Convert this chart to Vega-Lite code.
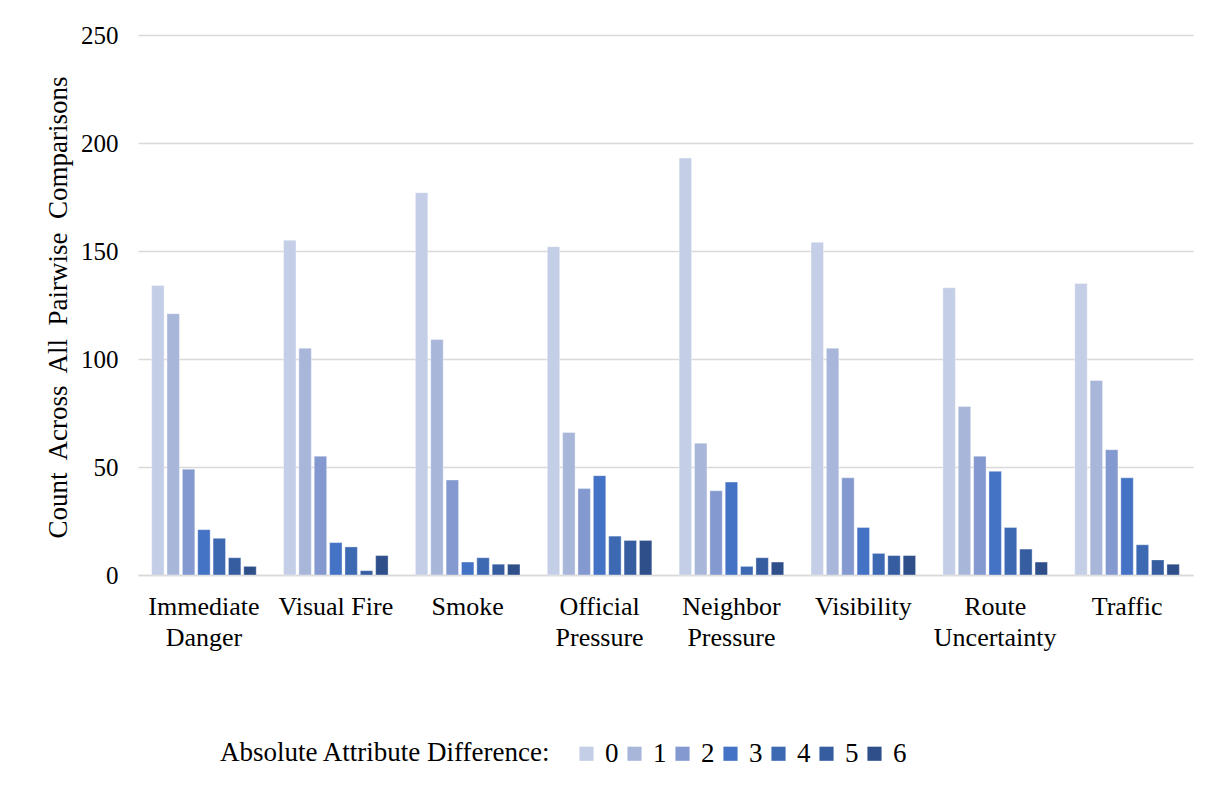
{
  "$schema": "https://vega.github.io/schema/vega-lite/v6.json",
  "width": 1055,
  "height": 540,
  "autosize": {"type": "none"},
  "padding": {"left": 138, "top": 35, "right": 24, "bottom": 210},
  "background": "white",
  "config": {
    "font": "Liberation Serif",
    "view": {"stroke": null}
  },
  "data": {
    "values": [
      {"attribute": "Immediate Danger", "diff": 0, "count": 134},
      {"attribute": "Immediate Danger", "diff": 1, "count": 121},
      {"attribute": "Immediate Danger", "diff": 2, "count": 49},
      {"attribute": "Immediate Danger", "diff": 3, "count": 21},
      {"attribute": "Immediate Danger", "diff": 4, "count": 17},
      {"attribute": "Immediate Danger", "diff": 5, "count": 8},
      {"attribute": "Immediate Danger", "diff": 6, "count": 4},
      {"attribute": "Visual Fire", "diff": 0, "count": 155},
      {"attribute": "Visual Fire", "diff": 1, "count": 105},
      {"attribute": "Visual Fire", "diff": 2, "count": 55},
      {"attribute": "Visual Fire", "diff": 3, "count": 15},
      {"attribute": "Visual Fire", "diff": 4, "count": 13},
      {"attribute": "Visual Fire", "diff": 5, "count": 2},
      {"attribute": "Visual Fire", "diff": 6, "count": 9},
      {"attribute": "Smoke", "diff": 0, "count": 177},
      {"attribute": "Smoke", "diff": 1, "count": 109},
      {"attribute": "Smoke", "diff": 2, "count": 44},
      {"attribute": "Smoke", "diff": 3, "count": 6},
      {"attribute": "Smoke", "diff": 4, "count": 8},
      {"attribute": "Smoke", "diff": 5, "count": 5},
      {"attribute": "Smoke", "diff": 6, "count": 5},
      {"attribute": "Official Pressure", "diff": 0, "count": 152},
      {"attribute": "Official Pressure", "diff": 1, "count": 66},
      {"attribute": "Official Pressure", "diff": 2, "count": 40},
      {"attribute": "Official Pressure", "diff": 3, "count": 46},
      {"attribute": "Official Pressure", "diff": 4, "count": 18},
      {"attribute": "Official Pressure", "diff": 5, "count": 16},
      {"attribute": "Official Pressure", "diff": 6, "count": 16},
      {"attribute": "Neighbor Pressure", "diff": 0, "count": 193},
      {"attribute": "Neighbor Pressure", "diff": 1, "count": 61},
      {"attribute": "Neighbor Pressure", "diff": 2, "count": 39},
      {"attribute": "Neighbor Pressure", "diff": 3, "count": 43},
      {"attribute": "Neighbor Pressure", "diff": 4, "count": 4},
      {"attribute": "Neighbor Pressure", "diff": 5, "count": 8},
      {"attribute": "Neighbor Pressure", "diff": 6, "count": 6},
      {"attribute": "Visibility", "diff": 0, "count": 154},
      {"attribute": "Visibility", "diff": 1, "count": 105},
      {"attribute": "Visibility", "diff": 2, "count": 45},
      {"attribute": "Visibility", "diff": 3, "count": 22},
      {"attribute": "Visibility", "diff": 4, "count": 10},
      {"attribute": "Visibility", "diff": 5, "count": 9},
      {"attribute": "Visibility", "diff": 6, "count": 9},
      {"attribute": "Route Uncertainty", "diff": 0, "count": 133},
      {"attribute": "Route Uncertainty", "diff": 1, "count": 78},
      {"attribute": "Route Uncertainty", "diff": 2, "count": 55},
      {"attribute": "Route Uncertainty", "diff": 3, "count": 48},
      {"attribute": "Route Uncertainty", "diff": 4, "count": 22},
      {"attribute": "Route Uncertainty", "diff": 5, "count": 12},
      {"attribute": "Route Uncertainty", "diff": 6, "count": 6},
      {"attribute": "Traffic", "diff": 0, "count": 135},
      {"attribute": "Traffic", "diff": 1, "count": 90},
      {"attribute": "Traffic", "diff": 2, "count": 58},
      {"attribute": "Traffic", "diff": 3, "count": 45},
      {"attribute": "Traffic", "diff": 4, "count": 14},
      {"attribute": "Traffic", "diff": 5, "count": 7},
      {"attribute": "Traffic", "diff": 6, "count": 5}
    ]
  },
  "mark": {"type": "bar", "stroke": "white", "strokeWidth": 0.6, "strokeOpacity": 0.6},
  "encoding": {
    "x": {
      "field": "attribute",
      "type": "nominal",
      "sort": null,
      "scale": {"paddingInner": 0.207, "paddingOuter": 0.1035},
      "axis": {
        "title": null,
        "labelAngle": 0,
        "labelFont": "Liberation Serif",
        "labelFontSize": 26,
        "labelColor": "#000000",
        "labelLineHeight": 31,
        "labelPadding": 18,
        "labelExpr": "datum.value == 'Visual Fire' ? datum.value : split(datum.value, ' ')",
        "ticks": false,
        "domainColor": "#d9d9d9",
        "domainWidth": 1.5,
        "grid": false
      }
    },
    "xOffset": {
      "field": "diff",
      "type": "ordinal",
      "scale": {"paddingInner": 0.19, "paddingOuter": 0}
    },
    "y": {
      "field": "count",
      "type": "quantitative",
      "scale": {"domain": [0, 250], "nice": false},
      "axis": {
        "values": [0, 50, 100, 150, 200, 250],
        "title": "Count\u00a0 Across\u00a0 All\u00a0 Pairwise\u00a0 Comparisons",
        "titleFont": "Liberation Serif",
        "titleFontSize": 27,
        "titleFontWeight": "normal",
        "titleColor": "#000000",
        "titleX": -72,
        "titleY": 272,
        "titleAngle": -90,
        "titleAlign": "center",
        "titleBaseline": "alphabetic",
        "titleLimit": 0,
        "labelFont": "Liberation Serif",
        "labelFontSize": 25,
        "labelColor": "#000000",
        "labelPadding": 20,
        "ticks": false,
        "domain": false,
        "gridColor": "#d9d9d9",
        "gridWidth": 1.5
      }
    },
    "color": {
      "field": "diff",
      "type": "ordinal",
      "scale": {
        "domain": [0, 1, 2, 3, 4, 5, 6],
        "range": ["#c4cee6", "#a8b6da", "#8499cf", "#4472c4", "#3d69b3", "#365da0", "#2f4f8a"]
      },
      "legend": {
        "orient": "none",
        "legendX": 82,
        "legendY": 705,
        "direction": "horizontal",
        "title": "Absolute Attribute Difference:",
        "titleOrient": "left",
        "titleFont": "Liberation Serif",
        "titleFontSize": 27,
        "titleFontWeight": "normal",
        "titleColor": "#000000",
        "titlePadding": 22,
        "titleBaseline": "middle",
        "titleLimit": 0,
        "labelFont": "Liberation Serif",
        "labelFontSize": 27,
        "labelColor": "#000000",
        "labelOffset": 5,
        "symbolType": "square",
        "symbolSize": 200,
        "symbolStrokeWidth": 0,
        "columnPadding": 2
      }
    }
  }
}
